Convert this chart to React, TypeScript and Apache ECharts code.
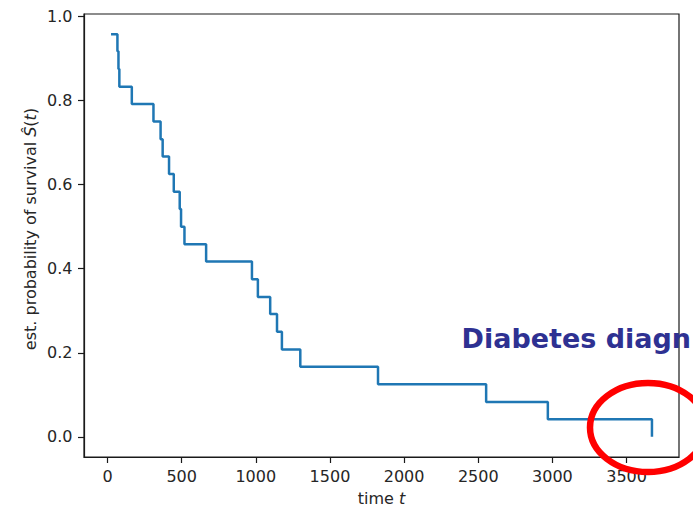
import React, { useEffect, useRef } from "react";
import * as echarts from "echarts";

// Kaplan-Meier estimate: event times and survival probabilities
const times = [24, 67, 74, 80, 164, 310, 358, 372, 415, 447, 487, 496, 519, 665, 974, 1014, 1097, 1143, 1176, 1300, 1824, 2553, 2969, 3671];
const survival = [0.958, 0.917, 0.875, 0.833, 0.792, 0.75, 0.708, 0.667, 0.625, 0.583, 0.542, 0.5, 0.458, 0.417, 0.375, 0.333, 0.292, 0.25, 0.208, 0.167, 0.125, 0.083, 0.042, 0.0];
const xTicks = [0, 500, 1000, 1500, 2000, 2500, 3000, 3500];
const yTicks = [0.0, 0.2, 0.4, 0.6, 0.8, 1.0];
const xLabel = "time {i|t}";
const yLabel = "est. probability of survival {i|Ŝ}({i|t})";
const annotation = "Diabetes diagn";

const FONT = "DejaVu Sans";

export default function App() {
  const ref = useRef<HTMLDivElement>(null);
  useEffect(() => {
    document.body.style.margin = "0";
    if (!ref.current) return;
    const chart = echarts.init(ref.current, null, { renderer: "svg" });
    const xMinD = Math.min(...times);
    const xMaxD = Math.max(...times);
    const yMinD = Math.min(...survival);
    const yMaxD = Math.max(...survival);
    const xm = (xMaxD - xMinD) * 0.05;
    const ym = (yMaxD - yMinD) * 0.05;
    const gridLeft = 84, gridRight = 14, gridTop = 14, gridBottom = 52;
    const plotMidX = gridLeft + (693 - gridLeft - gridRight) / 2;

    chart.setOption({
      animation: false,
      backgroundColor: "#fff",
      grid: {
        left: gridLeft,
        right: gridRight,
        top: gridTop,
        bottom: gridBottom,
        show: true,
        borderColor: "#1a1a1a",
        borderWidth: 1.2,
        backgroundColor: "#fff",
        outerBoundsMode: "none",
      },
      xAxis: {
        type: "value",
        min: xMinD - xm,
        max: xMaxD + xm,
        splitLine: { show: false },
        axisLine: { show: true, onZero: false, lineStyle: { color: "#1a1a1a", width: 1.2 } },
        axisTick: { show: true, inside: false, length: 6, customValues: xTicks, lineStyle: { color: "#1a1a1a", width: 1.2 } },
        axisLabel: {
          customValues: xTicks,
          margin: 11,
          fontFamily: FONT,
          fontSize: 16,
          color: "#262626",
          formatter: (v: number) => String(v),
        },
      },
      yAxis: {
        type: "value",
        min: yMinD - ym,
        max: yMaxD + ym,
        splitLine: { show: false },
        axisLine: { show: true, onZero: false, lineStyle: { color: "#1a1a1a", width: 1.2 } },
        axisTick: { show: true, inside: false, length: 6, customValues: yTicks, lineStyle: { color: "#1a1a1a", width: 1.2 } },
        axisLabel: {
          customValues: yTicks,
          margin: 11.5,
          fontFamily: FONT,
          fontSize: 16,
          color: "#262626",
          formatter: (v: number) => v.toFixed(1),
        },
      },
      series: [
        {
          type: "line",
          step: "end",
          showSymbol: false,
          symbol: "none",
          data: times.map((t, i) => [t, survival[i]]),
          lineStyle: { color: "#1f77b4", width: 2.5 },
          itemStyle: { color: "#1f77b4" },
          z: 3,
        },
      ],
      graphic: [
        {
          type: "text",
          x: plotMidX,
          y: 498,
          style: {
            text: xLabel,
            fontFamily: FONT,
            fontSize: 16,
            fill: "#262626",
            align: "center",
            verticalAlign: "middle",
            rich: { i: { fontFamily: FONT, fontSize: 16, fontStyle: "italic", fill: "#262626" } },
          },
        },
        {
          type: "text",
          x: 30,
          y: 229,
          rotation: Math.PI / 2,
          style: {
            text: yLabel,
            fontFamily: FONT,
            fontSize: 16,
            fill: "#262626",
            align: "center",
            verticalAlign: "middle",
            rich: { i: { fontFamily: FONT, fontSize: 16, fontStyle: "italic", fill: "#262626" } },
          },
        },
        {
          type: "text",
          x: 461.5,
          y: 338,
          z: 20,
          style: {
            text: annotation,
            fontFamily: FONT,
            fontSize: 27,
            fontWeight: "bold",
            fill: "#2e3192",
            align: "left",
            verticalAlign: "middle",
          },
        },
        {
          type: "ellipse",
          z: 30,
          shape: { cx: 648, cy: 427.5, rx: 58, ry: 44.5 },
          style: { fill: "none", stroke: "#ff0000", lineWidth: 6.5 },
        },
      ],
    });
    return () => chart.dispose();
  }, []);
  return (
    <div
      ref={ref}
      style={{ position: "absolute", left: 0, top: 0, width: 693, height: 509 }}
    />
  );
}
